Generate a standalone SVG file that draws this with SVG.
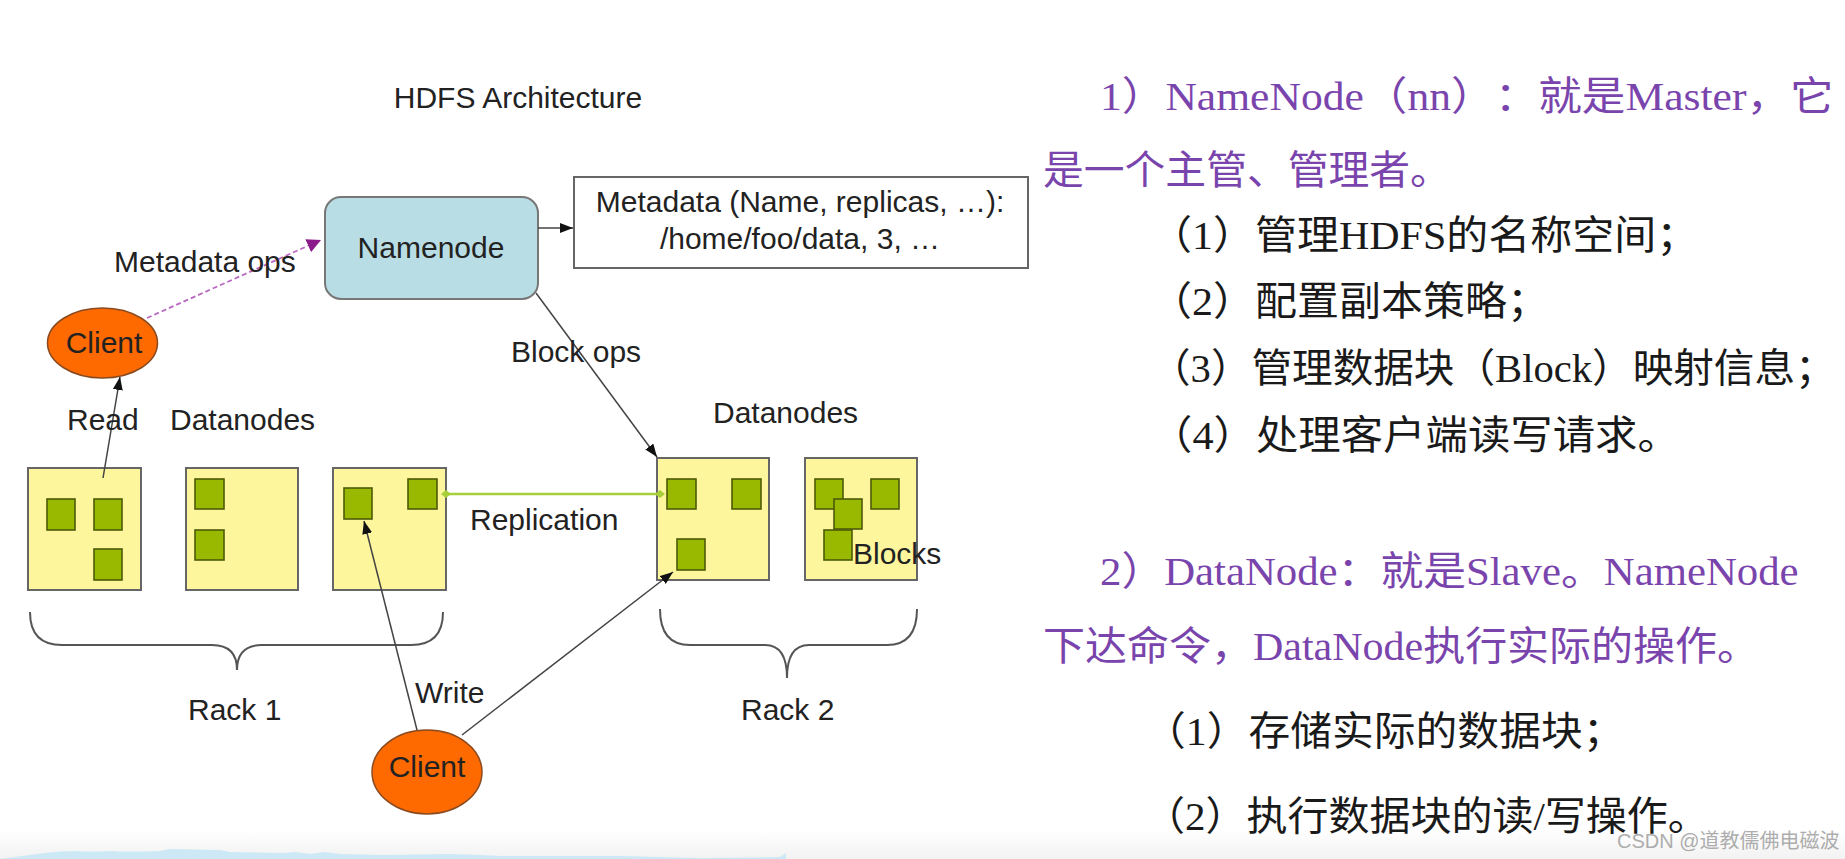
<svg xmlns="http://www.w3.org/2000/svg" width="1845" height="859" viewBox="0 0 1845 859">
<style>
.lbl{font-family:"Liberation Sans",Arial,sans-serif;font-size:30px;fill:#222}
.dn{fill:#fdf69c;stroke:#666;stroke-width:2}
.blk{fill:#99b900;stroke:#4d5a08;stroke-width:1.6}
.cl{fill:#ff6a00;stroke:#8a4a20;stroke-width:1.5}
.cn{font-family:"Liberation Serif","Noto Sans CJK SC",serif;font-size:40px;text-spacing-trim:space-all}
.pu{fill:#7a44ad}
.bk{fill:#1a1a1a}
.con{fill:none;stroke:#444;stroke-width:1.5}
</style>
<defs>
<marker id="ab" markerUnits="userSpaceOnUse" markerWidth="14" markerHeight="10" refX="13" refY="5" orient="auto"><path d="M0,0 L13,5 L0,10 z" fill="#111"/></marker>
<marker id="ap" markerUnits="userSpaceOnUse" markerWidth="16" markerHeight="14" refX="14" refY="7" orient="auto"><path d="M0,0 L14,7 L0,14 z" fill="#8b1a8b"/></marker>
<marker id="gd" markerUnits="userSpaceOnUse" markerWidth="10" markerHeight="10" refX="5" refY="5" orient="auto"><path d="M0,5 L5,1 L10,5 L5,9 z" fill="#a6cf3a"/></marker>
<linearGradient id="bg" x1="0" y1="0" x2="0" y2="1"><stop offset="0" stop-color="#fff"/><stop offset="1" stop-color="#f2f2f2"/></linearGradient>
</defs>
<rect width="1845" height="859" fill="#fff"/>
<rect x="0" y="830" width="1845" height="29" fill="url(#bg)"/>
<path d="M0,859 L15,857 Q30,855 45,853 Q60,851 75,851 Q90,852 110,851 Q130,852 160,851 L170,849 L220,850 L230,852 L285,853 L295,852 L310,854 L325,852 L340,854 L385,855 L450,854 L480,855 L500,856 L620,856 L700,858 L780,857 L786,853 L786,859 Z" fill="#cde9f5"/>

<text class="lbl" x="518" y="108" text-anchor="middle">HDFS Architecture</text>

<g id="namenode">
<rect x="325" y="197" width="213" height="102" rx="16" fill="#b9dde4" stroke="#777" stroke-width="2"/>
<text class="lbl" x="431" y="258" text-anchor="middle">Namenode</text>
</g>

<g id="metadata">
<rect x="574" y="177" width="454" height="91" fill="#fff" stroke="#666" stroke-width="2"/>
<text class="lbl" x="800" y="212" text-anchor="middle">Metadata (Name, replicas, …):</text>
<text class="lbl" x="800" y="249" text-anchor="middle">/home/foo/data, 3, …</text>
</g>

<g id="client-read">
<ellipse class="cl" cx="102.5" cy="343" rx="55" ry="35"/>
<text class="lbl" x="104" y="353" text-anchor="middle">Client</text>
</g>

<g id="client-write">
<ellipse class="cl" cx="427" cy="772" rx="55" ry="42"/>
<text class="lbl" x="427" y="777" text-anchor="middle">Client</text>
</g>

<g id="datanode-r1-1">
<rect class="dn" x="28" y="468" width="113" height="122"/>
<rect class="blk" x="47" y="499" width="28" height="31"/>
<rect class="blk" x="94" y="499" width="28" height="31"/>
<rect class="blk" x="94" y="549" width="28" height="31"/>
</g>
<g id="datanode-r1-2">
<rect class="dn" x="186" y="468" width="112" height="122"/>
<rect class="blk" x="195" y="479" width="29" height="30"/>
<rect class="blk" x="195" y="530" width="29" height="30"/>
</g>
<g id="datanode-r1-3">
<rect class="dn" x="333" y="468" width="113" height="122"/>
<rect class="blk" x="344" y="488" width="28" height="31"/>
<rect class="blk" x="408" y="479" width="29" height="30"/>
</g>
<g id="datanode-r2-1">
<rect class="dn" x="657" y="458" width="112" height="122"/>
<rect class="blk" x="667" y="479" width="29" height="30"/>
<rect class="blk" x="732" y="479" width="29" height="30"/>
<rect class="blk" x="677" y="539" width="28" height="31"/>
</g>
<g id="datanode-r2-2">
<rect class="dn" x="805" y="458" width="112" height="122"/>
<rect class="blk" x="815" y="479" width="28" height="30"/>
<rect class="blk" x="871" y="479" width="28" height="30"/>
<rect class="blk" x="834" y="499" width="28" height="30"/>
<rect class="blk" x="824" y="530" width="28" height="30"/>
<text class="lbl" x="853" y="564">Blocks</text>
</g>

<g id="rack1">
<path d="M30,612 Q30,645 62,645 L212,645 Q237,645 237,670 Q237,645 262,645 L411,645 Q443,645 443,612" fill="none" stroke="#555" stroke-width="2"/>
</g>
<g id="rack2">
<path d="M660,609 Q660,645 690,645 L765,645 Q787,645 787,678 Q787,645 809,645 L887,645 Q917,645 917,609" fill="none" stroke="#555" stroke-width="2"/>
</g>

<g id="connectors">
<line class="con" x1="538" y1="228" x2="573" y2="228" marker-end="url(#ab)"/>
<line x1="147" y1="318" x2="321" y2="240" stroke="#b868c0" stroke-width="1.8" stroke-dasharray="5,3" marker-end="url(#ap)"/>
<line class="con" x1="536" y1="293" x2="657" y2="457" marker-end="url(#ab)"/>
<line class="con" x1="103" y1="478" x2="120" y2="377" marker-end="url(#ab)"/>
<line x1="446" y1="494" x2="660" y2="494" stroke="#a6cf3a" stroke-width="2.5" marker-start="url(#gd)" marker-end="url(#gd)"/>
<line class="con" x1="417" y1="730" x2="364" y2="521" marker-end="url(#ab)"/>
<line class="con" x1="462" y1="735" x2="673" y2="572" marker-end="url(#ab)"/>
</g>

<g id="labels">
<text class="lbl" x="114" y="272">Metadata ops</text>
<text class="lbl" x="511" y="362">Block ops</text>
<text class="lbl" x="67" y="430">Read</text>
<text class="lbl" x="170" y="430">Datanodes</text>
<text class="lbl" x="713" y="423">Datanodes</text>
<text class="lbl" x="470" y="530">Replication</text>
<text class="lbl" x="415" y="703">Write</text>
<text class="lbl" x="188" y="720">Rack 1</text>
<text class="lbl" x="741" y="720">Rack 2</text>
</g>

<g id="notes">
<text class="cn pu" transform="translate(1100,110) scale(1.09,1)">1）NameNode（nn）：就是Master，它</text>
<text class="cn pu" transform="translate(1043,184) scale(1.02,1)">是一个主管、管理者。</text>
<text class="cn bk" transform="translate(1150,249) scale(1.05,1)">（1）管理HDFS的名称空间；</text>
<text class="cn bk" transform="translate(1150,315) scale(1.05,1)">（2）配置副本策略；</text>
<text class="cn bk" transform="translate(1150,382) scale(1.015,1)">（3）管理数据块（Block）映射信息；</text>
<text class="cn bk" transform="translate(1150,449) scale(1.06,1)">（4）处理客户端读写请求。</text>
<text class="cn pu" transform="translate(1100,585) scale(1.07,1)">2）DataNode：就是Slave。NameNode</text>
<text class="cn pu" transform="translate(1043,660) scale(1.05,1)">下达命令，DataNode执行实际的操作。</text>
<text class="cn bk" transform="translate(1144,745) scale(1.045,1)">（1）存储实际的数据块；</text>
<text class="cn bk" transform="translate(1144,830) scale(1.025,1)">（2）执行数据块的读/写操作。</text>
</g>
<text x="1617" y="848" font-family="'Liberation Sans','Noto Sans CJK SC',sans-serif" font-size="20" fill="#9a9a9a" opacity="0.8">CSDN @道教儒佛电磁波</text>
</svg>
